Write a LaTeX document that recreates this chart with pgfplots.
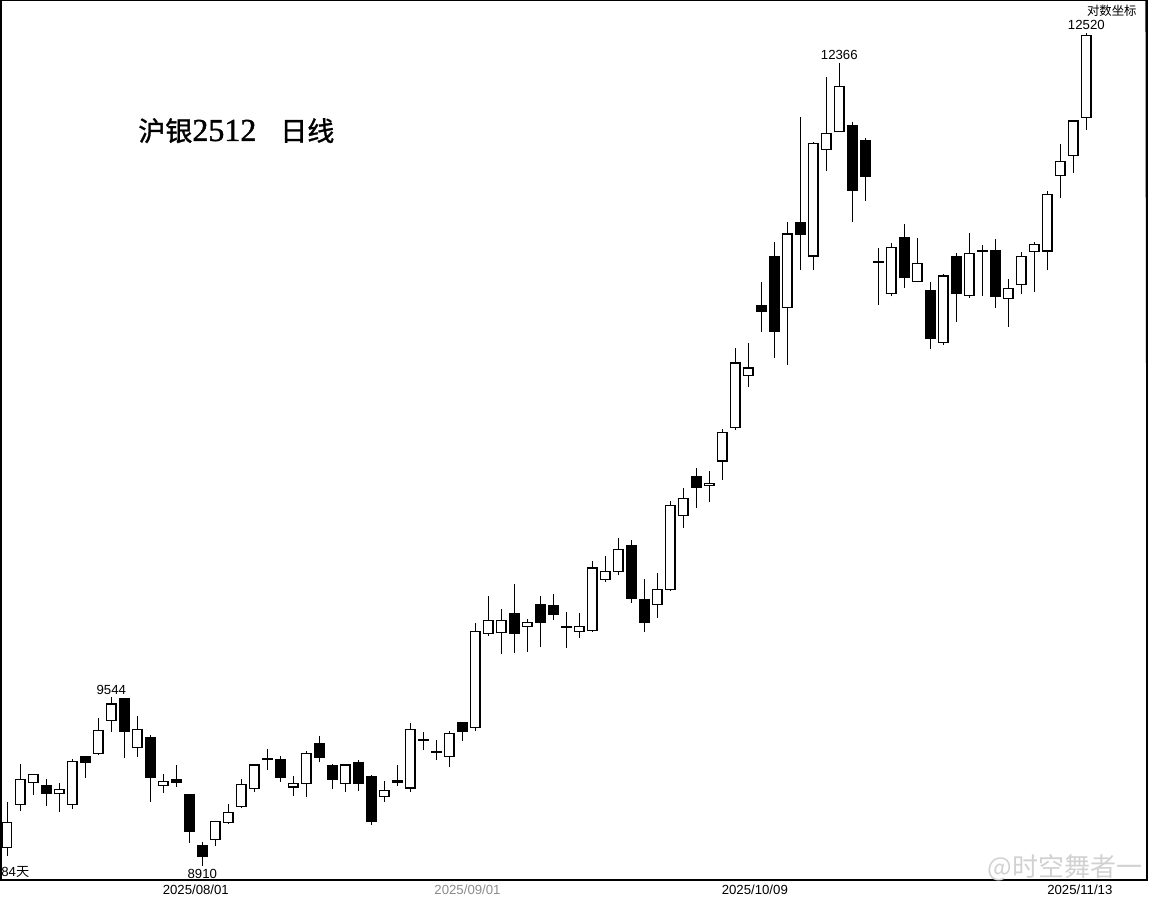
\documentclass[border=0pt]{standalone}
\usepackage{pgfplots}
\usepackage{pgfplotstable}
\pgfplotsset{compat=1.18}
\usepackage{fontspec}
\setmainfont{Liberation Sans}
\newfontfamily\cjk{Noto Sans CJK SC}
\newfontfamily\cjkb[FakeBold=1.2]{Noto Sans CJK SC}
\newfontfamily\serifb[FakeBold=1.2]{Liberation Serif}
\newcommand\lab{\fontsize{6.6pt}{7pt}\selectfont}

\pgfplotstableread{
x o h l c
0 8976 9143 8945 9069
1 9134 9288 9112 9230
2 9217 9251 9170 9247
3 9206 9230 9130 9176
4 9176 9215 9108 9191
5 9134 9305 9118 9297
6 9316 9318 9234 9294
7 9327 9462 9321 9416
8 9453 9544 9408 9518
9 9537 9540 9311 9412
10 9350 9471 9314 9420
11 9386 9398 9145 9238
12 9206 9251 9180 9221
13 9230 9282 9201 9217
14 9170 9176 8994 9037
15 8984 8998 8910 8945
16 9005 9073 8982 9072
17 9069 9137 9062 9106
18 9128 9230 9123 9210
19 9195 9289 9182 9284
20 9308 9346 9264 9305
21 9304 9317 9220 9238
22 9201 9244 9167 9214
23 9214 9336 9164 9327
24 9367 9394 9294 9314
25 9282 9288 9192 9231
26 9214 9285 9182 9284
27 9293 9304 9186 9214
28 9240 9245 9059 9071
29 9164 9222 9145 9188
30 9226 9282 9205 9217
31 9197 9444 9182 9420
32 9381 9408 9341 9378
33 9335 9378 9302 9332
34 9315 9412 9275 9405
35 9447 9449 9376 9414
36 9427 9837 9414 9804
37 9796 9947 9787 9849
38 9800 9894 9714 9849
39 9877 9995 9718 9796
40 9825 9854 9722 9841
41 9913 9947 9742 9839
42 9909 9955 9851 9871
43 9824 9882 9738 9820
44 9804 9877 9776 9825
45 9808 10091 9804 10062
46 10013 10111 10004 10046
47 10046 10185 10032 10138
48 10156 10177 9920 9936
49 9931 10015 9803 9839
50 9913 10043 9859 9973
51 9973 10339 9968 10322
52 10280 10398 10228 10352
53 10445 10483 10310 10400
54 10406 10470 10335 10415
55 10512 10648 10431 10635
56 10655 11010 10646 10941
57 10884 11032 10836 10919
58 11202 11310 11081 11172
59 11427 11495 10964 11081
60 11192 11587 10934 11532
61 11584 12095 11366 11533
62 11429 11972 11366 11967
63 11937 12296 11832 12016
64 12026 12366 12024 12249
65 12057 12073 11590 11742
66 11983 11994 11690 11806
67 11402 11465 11204 11398
68 11256 11488 11242 11469
69 11516 11581 11281 11331
70 11310 11513 11308 11393
71 11269 11308 11005 11051
72 11032 11346 11023 11337
73 11426 11442 11124 11256
74 11245 11537 11236 11440
75 11455 11483 11245 11451
76 11456 11508 11190 11242
77 11233 11321 11105 11279
78 11297 11446 11254 11426
79 11450 11494 11263 11483
80 11453 11735 11363 11720
81 11811 11963 11703 11878
82 11907 12080 11823 12078
83 12095 12520 12034 12508
}\candles

\begin{document}
\begin{tikzpicture}
\begin{axis}[
  scale only axis,
  width=573pt, height=439.5pt,
  xmin=-0.4846, xmax=87.669,
  ymode=log, ymin=8859, ymax=12686,
  axis line style={line width=0.8pt},
  ytick=\empty,
  xtick={14.5,35.4,57.5,82.5},
  xticklabels={2025/08/01,\textcolor{black!45}{2025/09/01},2025/10/09,2025/11/13},
  major tick length=0pt,
  xticklabel style={font=\lab, inner sep=0pt, anchor=north, yshift=-2.3pt},
  clip=false,
]
\pgfplotstablegetrowsof{\candles}
\pgfmathtruncatemacro\N{\pgfplotsretval-1}
\pgfplotsforeachungrouped \i in {0,...,\N}{%
  \pgfplotstablegetelem{\i}{x}\of\candles \let\cx\pgfplotsretval
  \pgfplotstablegetelem{\i}{o}\of\candles \let\co\pgfplotsretval
  \pgfplotstablegetelem{\i}{h}\of\candles \let\ch\pgfplotsretval
  \pgfplotstablegetelem{\i}{l}\of\candles \let\cl\pgfplotsretval
  \pgfplotstablegetelem{\i}{c}\of\candles \let\cc\pgfplotsretval
  \pgfmathsetmacro\xa{\cx-0.35}%
  \pgfmathsetmacro\xb{\cx+0.35}%
  \ifdim\co pt<\cc pt \def\bfill{white}\else\def\bfill{black}\fi
  \edef\cmd{%
    \noexpand\addplot[black, line width=0.5pt, forget plot] coordinates {(\cx,\cl) (\cx,\ch)};
    \noexpand\addplot[draw=black, fill=\bfill, line width=0.65pt, line cap=rect, forget plot] coordinates {(\xa,\co) (\xb,\co) (\xb,\cc) (\xa,\cc) (\xa,\co)};
  }%
  \cmd
}
% annotations
\node[anchor=south, inner sep=0pt, font=\lab, yshift=1.3pt] at (axis cs:8,9544) {9544};
\node[anchor=south, inner sep=0pt, font=\lab, yshift=1.5pt] at (axis cs:64,12366) {12366};
\node[anchor=north, inner sep=0pt, font=\lab, yshift=-1.5pt] at (axis cs:15,8910) {8910};
\node[anchor=south, inner sep=0pt, font=\lab, yshift=1.6pt] at (axis cs:83,12520) {12520};
\node[anchor=south west, inner sep=0pt, font=\lab, yshift=1pt] at (rel axis cs:0,0) {84{\cjk 天}};
\node[anchor=north east, inner sep=0pt, font={\cjk\fontsize{6.2pt}{7pt}\selectfont}, xshift=-5pt, yshift=-2.2pt] at (rel axis cs:1,1) {对数坐标};
\fill (rel axis cs:1,1) -- ++(-3.5pt,0) -- ++(3.5pt,-3.5pt) -- cycle;
% price-level ticks on right edge
\draw[line width=0.8pt] (axis cs:87.669,12513) -- ++(-10pt,0);
\draw[line width=0.8pt] (axis cs:87.669,10269) -- ++(-5pt,0);
% title
\node[anchor=west, inner sep=0pt] at (rel axis cs:0.1195,0.8521)
  {{\cjkb\fontsize{13.5pt}{14pt}\selectfont 沪银}{\serifb\fontsize{16pt}{16pt}\selectfont 2512}\hspace{12pt}{\cjkb\fontsize{13.5pt}{14pt}\selectfont 日线}};
% watermark
\node[anchor=center, inner sep=0pt, text=black!18, font={\cjk\fontsize{13pt}{14pt}\selectfont}] at (rel axis cs:0.9284,0.0137) {@时空舞者一};
\end{axis}
\pgfresetboundingbox
\useasboundingbox (-0.5pt,-9pt) rectangle (574pt,440pt);
\end{tikzpicture}
\end{document}
